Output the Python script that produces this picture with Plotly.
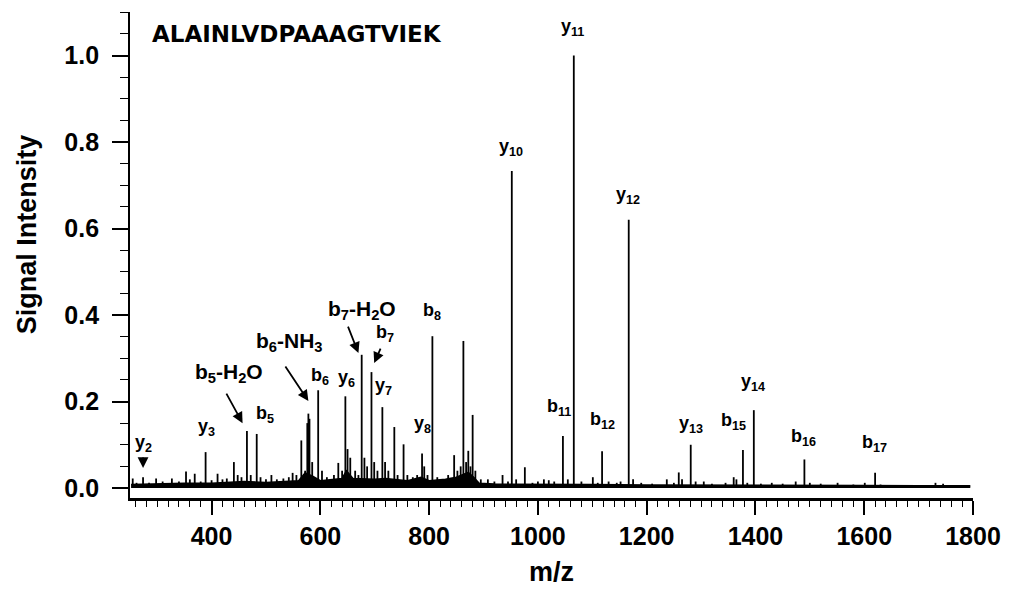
import plotly.graph_objects as go

# ---------------- data ----------------
peak_mz = [255, 262, 274, 285, 298, 310, 327, 340, 353, 360, 369, 380, 389, 400, 411, 420, 428,
           441, 448, 455, 465, 472, 483, 490, 500, 510, 520, 532, 542, 549, 556, 565, 572, 576,
           578, 580, 585, 596, 603, 612, 625, 633, 640, 646, 650, 655, 664, 670, 676, 681, 686,
           694, 699, 705, 714, 719, 725, 736, 742, 753, 760, 770, 778, 787, 791, 797, 806, 815,
           825, 835, 846, 852, 858, 863, 868, 872, 876, 880, 885, 895, 908, 920, 935, 945, 952,
           960, 976, 990, 1000, 1011, 1020, 1030, 1046, 1055, 1066, 1080, 1101, 1110, 1118, 1130,
           1145, 1152, 1167, 1175, 1190, 1210, 1237, 1250, 1259, 1265, 1281, 1290, 1305, 1320,
           1345, 1360, 1365, 1377, 1385, 1397, 1410, 1430, 1450, 1474, 1490, 1500, 1520, 1551,
           1580, 1601, 1620, 1630, 1660, 1700, 1731, 1745, 1770]
peak_int = [0.022, 0.012, 0.025, 0.012, 0.022, 0.015, 0.022, 0.015, 0.038, 0.020, 0.033, 0.015,
            0.083, 0.018, 0.033, 0.020, 0.022, 0.060, 0.030, 0.025, 0.132, 0.030, 0.125, 0.025,
            0.020, 0.030, 0.020, 0.022, 0.025, 0.035, 0.030, 0.110, 0.040, 0.150, 0.172, 0.160,
            0.060, 0.226, 0.040, 0.025, 0.030, 0.058, 0.040, 0.212, 0.090, 0.070, 0.040, 0.030,
            0.308, 0.070, 0.050, 0.268, 0.060, 0.040, 0.187, 0.060, 0.040, 0.141, 0.030, 0.101,
            0.030, 0.025, 0.030, 0.080, 0.050, 0.030, 0.351, 0.025, 0.020, 0.030, 0.076, 0.040,
            0.050, 0.340, 0.060, 0.086, 0.050, 0.169, 0.040, 0.020, 0.020, 0.015, 0.030, 0.015,
            0.733, 0.020, 0.048, 0.012, 0.015, 0.020, 0.018, 0.015, 0.120, 0.020, 1.000, 0.015,
            0.025, 0.012, 0.085, 0.015, 0.012, 0.015, 0.620, 0.020, 0.012, 0.010, 0.020, 0.012,
            0.036, 0.020, 0.100, 0.015, 0.015, 0.010, 0.012, 0.025, 0.020, 0.088, 0.012, 0.180,
            0.010, 0.012, 0.010, 0.015, 0.066, 0.012, 0.010, 0.012, 0.008, 0.012, 0.035, 0.008,
            0.006, 0.006, 0.012, 0.010, 0.006]

# noise floor of the spectrum
floor_mz = [252, 300, 350, 400, 440, 460, 500, 540, 560, 572, 585, 600, 640, 648, 660, 700,
            720, 760, 785, 800, 830, 850, 862, 872, 882, 892, 920, 960, 1000, 1050, 1100, 1200,
            1300, 1400, 1500, 1600, 1700, 1795]
floor_int = [0.008, 0.010, 0.011, 0.011, 0.013, 0.015, 0.013, 0.015, 0.017, 0.035, 0.028, 0.017,
             0.022, 0.040, 0.022, 0.020, 0.022, 0.017, 0.025, 0.017, 0.020, 0.025, 0.032, 0.036,
             0.025, 0.011, 0.009, 0.009, 0.009, 0.008, 0.008, 0.007, 0.007, 0.007, 0.006, 0.006,
             0.005, 0.005]

# fragment ion labels: text, m/z position, intensity position, font size
label_text = ["y<sub>2</sub>", "y<sub>3</sub>", "b<sub>5</sub>-H<sub>2</sub>O", "b<sub>5</sub>",
              "b<sub>6</sub>-NH<sub>3</sub>", "b<sub>6</sub>", "y<sub>6</sub>",
              "b<sub>7</sub>-H<sub>2</sub>O", "b<sub>7</sub>", "y<sub>7</sub>", "y<sub>8</sub>",
              "b<sub>8</sub>", "y<sub>10</sub>", "y<sub>11</sub>", "y<sub>12</sub>",
              "b<sub>11</sub>", "b<sub>12</sub>", "y<sub>13</sub>", "b<sub>15</sub>",
              "y<sub>14</sub>", "b<sub>16</sub>", "b<sub>17</sub>"]
label_mz = [274, 391, 432, 498, 544, 599, 648, 676, 718, 716, 787, 806, 951, 1064, 1165,
            1039, 1118, 1281, 1360, 1396, 1488, 1618]
label_int = [0.104, 0.141, 0.266, 0.169, 0.338, 0.257, 0.254, 0.412, 0.358, 0.234, 0.146,
             0.407, 0.788, 1.064, 0.677, 0.187, 0.157, 0.146, 0.153, 0.243, 0.116, 0.104]
label_size = [18, 18, 21, 18, 21, 18, 18, 21, 18, 18, 18, 18, 18, 18, 18, 18, 18, 18, 18,
              18, 18, 18]

# arrows: head position (m/z, intensity) and tail offset in pixels
arrow_mz = [274, 457, 578, 670, 699]
arrow_int = [0.046, 0.150, 0.201, 0.312, 0.289]
arrow_ax = [0, -17, -24, -11, 7]
arrow_ay = [-12, -31, -36, -28, -16]

peptide = "ALAINLVDPAAAGTVIEK"
x_ticks = [400, 600, 800, 1000, 1200, 1400, 1600, 1800]
y_ticks = [0.0, 0.2, 0.4, 0.6, 0.8, 1.0]

# ---------------- figure ----------------
stick_x, stick_y = [], []
for m, h in zip(peak_mz, peak_int):
    stick_x += [m, m, None]
    stick_y += [0, h, None]

fig = go.Figure()
fig.add_trace(go.Scatter(x=floor_mz, y=floor_int, mode="lines", fill="tozeroy",
                         fillcolor="black", line=dict(color="black", width=1.5),
                         hoverinfo="skip", showlegend=False))
fig.add_trace(go.Scatter(x=stick_x, y=stick_y, mode="lines",
                         line=dict(color="black", width=1.8), showlegend=False))

for t, m, v, s in zip(label_text, label_mz, label_int, label_size):
    fig.add_annotation(x=m, y=v, text=t, showarrow=False, xanchor="center", yanchor="middle",
                       font=dict(family="Liberation Sans, Arial, sans-serif", size=s,
                                 color="black", weight="bold"))

for m, v, ax, ay in zip(arrow_mz, arrow_int, arrow_ax, arrow_ay):
    fig.add_annotation(x=m, y=v, text="", showarrow=True, ax=ax, ay=ay,
                       arrowhead=2, arrowsize=1.2, arrowwidth=1.8, arrowcolor="black")

# peptide sequence
fig.add_annotation(xref="paper", yref="paper", x=20 / 845, y=(498 - 34) / 486,
                   text=peptide, showarrow=False, xanchor="left", yanchor="middle",
                   font=dict(family="DejaVu Sans, sans-serif", size=23, color="black",
                             weight="bold"))
# axis titles
fig.add_annotation(xref="paper", yref="paper", x=(27 - 130) / 845, y=(498 - 234) / 486,
                   text="Signal Intensity", textangle=-90, showarrow=False,
                   xanchor="center", yanchor="middle",
                   font=dict(family="Liberation Sans, Arial, sans-serif", size=27,
                             color="black", weight="bold"))
fig.add_annotation(xref="paper", yref="paper", x=(552 - 130) / 845, y=(498 - 572) / 486,
                   text="m/z", showarrow=False, xanchor="center", yanchor="middle",
                   font=dict(family="Liberation Sans, Arial, sans-serif", size=27,
                             color="black", weight="bold"))

tickfont = dict(family="Liberation Sans, Arial, sans-serif", size=25, color="black",
                weight="bold")
fig.update_xaxes(range=[250, 1800], tickvals=x_ticks, ticktext=[str(v) for v in x_ticks],
                 showline=True, linecolor="black", linewidth=2.5, mirror=False,
                 ticks="outside", ticklen=14, tickwidth=1.5, tickcolor="black",
                 tickfont=tickfont, showgrid=False, zeroline=False,
                 minor=dict(dtick=20, tick0=0, ticks="outside", ticklen=6, tickwidth=1.2,
                            tickcolor="black", showgrid=False))
fig.update_yaxes(range=[-0.0231, 1.1006], tickvals=y_ticks,
                 ticktext=[f"{v:.1f}" for v in y_ticks],
                 showline=True, linecolor="black", linewidth=1.8,
                 ticks="outside", ticklen=16, tickwidth=1.5, tickcolor="black",
                 ticklabelstandoff=8,
                 tickfont=tickfont, showgrid=False, zeroline=False,
                 minor=dict(dtick=0.05, tick0=0, ticks="outside", ticklen=8, tickwidth=1.2,
                            tickcolor="black", showgrid=False))

fig.update_layout(width=1013, height=590, margin=dict(l=130, r=38, t=12, b=92),
                  plot_bgcolor="white", paper_bgcolor="white", showlegend=False)

fig.write_html("out.html")
